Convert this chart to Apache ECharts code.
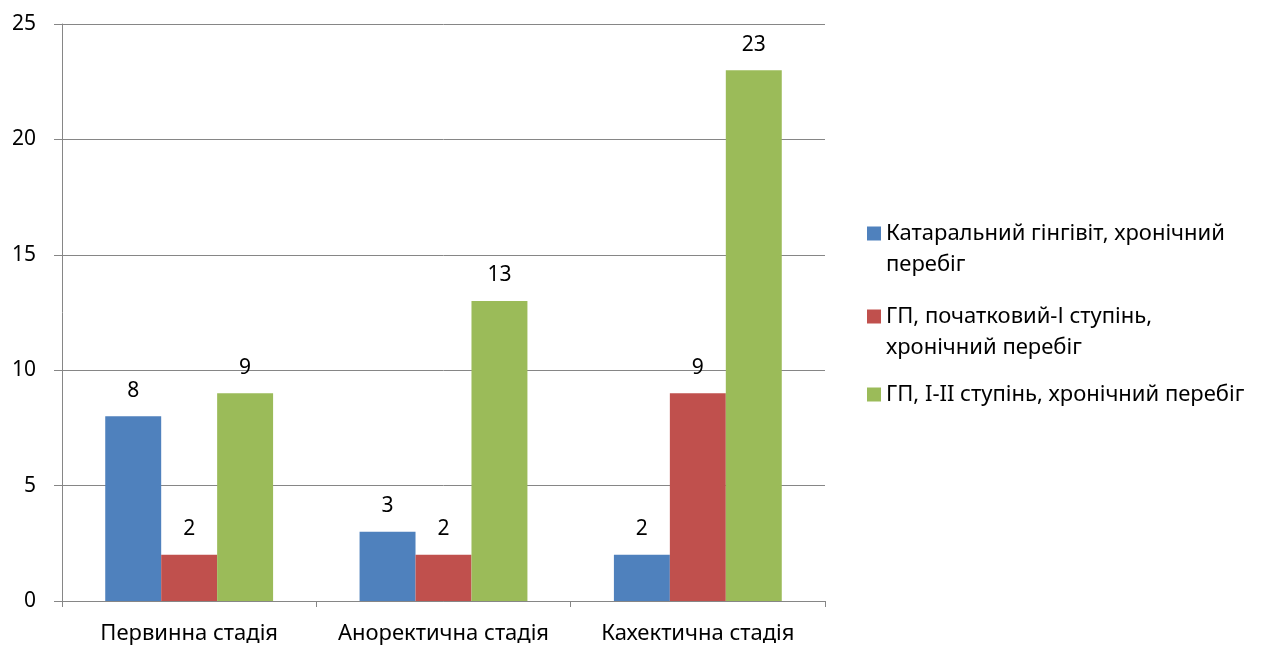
<!DOCTYPE html>
<html><head><meta charset="utf-8">
<script src="https://cdn.jsdelivr.net/npm/echarts@6/dist/echarts.min.js"></script>
<style>html,body{margin:0;padding:0;background:#fff}#c{width:1276px;height:647px}</style>
</head><body><div id="c"></div>
<script>
var categories = ['Первинна стадія', 'Аноректична стадія', 'Кахектична стадія'];
var seriesNames = ['Катаральний гінгівіт, хронічний перебіг', 'ГП, початковий-І ступінь, хронічний перебіг', 'ГП, I-II ступінь, хронічний перебіг'];
var catarrhal = [8, 3, 2];
var gpInitial = [2, 2, 9];
var gpI_II = [9, 13, 23];
var yTicks = [0, 5, 10, 15, 20, 25];

var colors = ['#4F81BD', '#C0504D', '#9BBB59'];
// leading blank line keeps the icon aligned with the first text line
var legendLines = [
  '\nКатаральний гінгівіт, хронічний\nперебіг',
  '\nГП, початковий-І ступінь,\nхронічний перебіг',
  'ГП, I-II ступінь, хронічний перебіг'
];
var FONT = 'Noto Sans';
var chart = echarts.init(document.getElementById('c'));
function mkSeries(i, data) {
  return {
    name: seriesNames[i], type: 'bar', data: data,
    barGap: '0%', barCategoryGap: '34%',
    itemStyle: { color: colors[i] },
    label: { show: true, position: 'top', distance: 15, color: '#000', fontSize: 21, fontFamily: FONT },
    emphasis: { disabled: true }
  };
}
function mkLegend(i, top) {
  return {
    orient: 'vertical', left: 867, top: top, itemWidth: 14, itemHeight: 14, padding: 0,
    icon: 'rect', data: [seriesNames[i]],
    formatter: function () { return legendLines[i]; },
    textStyle: { fontSize: 22, fontFamily: FONT, color: '#000', lineHeight: 31 },
    selectedMode: false
  };
}
chart.setOption({
  animation: false,
  textStyle: { fontFamily: FONT },
  grid: { left: 62, right: 451, top: 24, bottom: 46, containLabel: false },
  legend: [mkLegend(0, 187), mkLegend(1, 270), mkLegend(2, 379)],
  xAxis: {
    type: 'category', data: categories,
    axisLine: { lineStyle: { color: '#868686', width: 1 } },
    axisTick: { show: true, length: 6, lineStyle: { color: '#868686' } },
    axisLabel: { fontSize: 22, color: '#000', margin: 22, fontFamily: FONT, interval: 0, hideOverlap: false }
  },
  yAxis: {
    type: 'value', min: yTicks[0], max: yTicks[yTicks.length - 1], interval: 5,
    axisLine: { show: true, lineStyle: { color: '#868686', width: 1 } },
    axisTick: { show: true, length: 8, lineStyle: { color: '#868686' } },
    axisLabel: { fontSize: 21, color: '#000', margin: 26, fontFamily: FONT },
    splitLine: { lineStyle: { color: '#868686', width: 1 } }
  },
  series: [mkSeries(0, catarrhal), mkSeries(1, gpInitial), mkSeries(2, gpI_II)]
});
</script></body></html>
